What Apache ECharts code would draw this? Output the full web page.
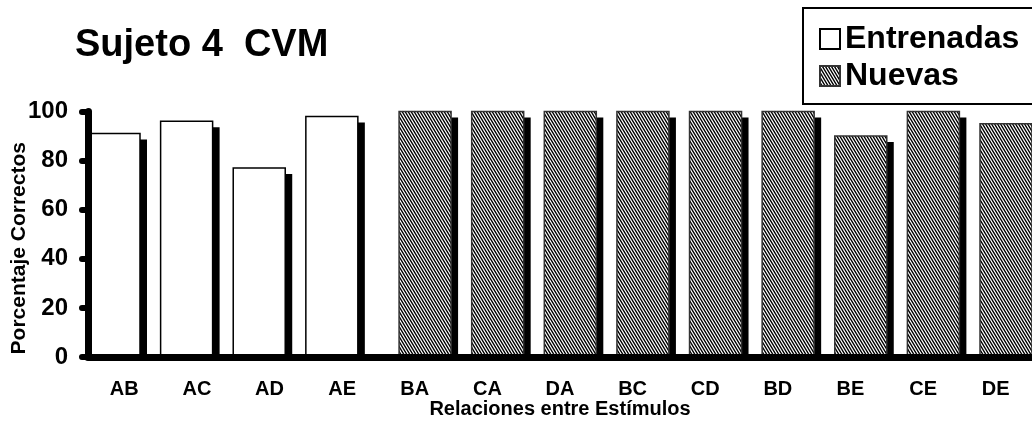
<!DOCTYPE html>
<html>
<head>
<meta charset="utf-8">
<script src="https://cdn.jsdelivr.net/npm/echarts@6/dist/echarts.min.js"></script>
<style>
html,body{margin:0;padding:0;background:#fff;}
#chart{width:1032px;height:421px;}
</style>
</head>
<body>
<div id="chart"></div>
<script>
// ---- data ----
const categories = ['AB','AC','AD','AE','BA','CA','DA','BC','CD','BD','BE','CE','DE'];
const seriesNames = ['Entrenadas','Nuevas'];
const entrenadas = [91, 96, 77, 98, null, null, null, null, null, null, null, null, null];
const nuevas = [null, null, null, null, 100, 100, 100, 100, 100, 100, 90, 100, 95];
const yMin = 0, yMax = 100, yStep = 20;
const titleText = 'Sujeto 4  CVM';
const xName = 'Relaciones entre Estímulos';
const yName = 'Porcentaje Correctos';

const FONT = '"Liberation Sans", Arial, Helvetica, sans-serif';
const BAR_W = 52;
const SH_X = 7, SH_Y = 6;

function makeHatch() {
  const W = 3, H = 5, slope = 0.6;
  const c = document.createElement('canvas');
  c.width = W; c.height = H;
  const ctx = c.getContext('2d');
  const img = ctx.createImageData(W, H);
  const N = 4;
  for (let y = 0; y < H; y++) {
    for (let x = 0; x < W; x++) {
      let cov = 0;
      for (let i = 0; i < N; i++) for (let j = 0; j < N; j++) {
        const px = x + (i + 0.5) / N, py = y + (j + 0.5) / N;
        const ph = (((px - py * slope) % W) + W) % W;
        if (ph < 1.4) cov++;
      }
      const v = Math.round(255 * cov / (N * N));
      const k = (y * W + x) * 4;
      img.data[k] = v; img.data[k+1] = v; img.data[k+2] = v; img.data[k+3] = 255;
    }
  }
  ctx.putImageData(img, 0, 0);
  return c;
}
const hatch = { image: makeHatch(), repeat: 'repeat' };

const styles = [
  { fill: '#fff', stroke: '#000', lineWidth: 1.5 },
  { fill: hatch, stroke: '#333', lineWidth: 1.5 }
];

function toPairs(arr) {
  const out = [];
  arr.forEach((v, i) => { if (v !== null && v !== undefined) out.push([i, v]); });
  return out;
}

function makeRender(which) {
  return function (params, api) {
    const idx = api.value(0), v = api.value(1);
    const base = api.coord([idx, 0]);
    const top = api.coord([idx, v]);
    const band = api.size([1, 0])[0];
    const offset = which === 0 ? 0 : band - BAR_W;
    const left = base[0] - band / 2 + offset;
    const h = base[1] - top[1];
    return {
      type: 'group',
      children: [
        { type: 'rect', shape: { x: left + SH_X, y: top[1] + SH_Y, width: BAR_W, height: Math.max(0, h - SH_Y) },
          style: { fill: '#000' } },
        { type: 'rect', shape: { x: left, y: top[1], width: BAR_W, height: h },
          style: styles[which] }
      ]
    };
  };
}

const axisLineStyle = { color: '#000', width: 7, cap: 'round' };
const tickStyle = { color: '#000', width: 6, cap: 'round' };

const chart = echarts.init(document.getElementById('chart'), null, { renderer: 'canvas' });
chart.setOption({
  animation: false,
  backgroundColor: '#fff',
  textStyle: { fontFamily: FONT },
  title: {
    text: titleText, left: 75, top: 27, padding: 0,
    textStyle: { fontSize: 38, fontWeight: 'bold', color: '#000', fontFamily: FONT }
  },
  legend: {
    orient: 'vertical', left: 803, top: 8,
    padding: [15, 30, 12, 16],
    borderColor: '#000', borderWidth: 2, borderRadius: 0,
    itemWidth: 20, itemHeight: 20, itemGap: 5, icon: 'rect',
    textStyle: { fontSize: 32, fontWeight: 'bold', color: '#000', fontFamily: FONT },
    data: seriesNames
  },
  grid: { left: 88, right: 0, top: 111.5, bottom: 64, containLabel: false, outerBoundsMode: 'none' },
  xAxis: {
    type: 'category', data: categories, z: 5,
    axisLine: { lineStyle: axisLineStyle },
    axisTick: { length: 6, lineStyle: tickStyle },
    axisLabel: { margin: 22, fontSize: 20, fontWeight: 'bold', color: '#000', fontFamily: FONT, interval: 0 },
    name: xName, nameLocation: 'middle', nameGap: 42, nameMoveOverlap: false,
    nameTextStyle: { fontSize: 20, fontWeight: 'bold', color: '#000', fontFamily: FONT }
  },
  yAxis: {
    type: 'value', min: yMin, max: yMax, interval: yStep, z: 5,
    axisLine: { show: true, lineStyle: axisLineStyle },
    axisTick: { show: true, length: 6, lineStyle: tickStyle },
    splitLine: { show: false },
    axisLabel: { margin: 20, fontSize: 24, fontWeight: 'bold', color: '#000', fontFamily: FONT },
    name: yName, nameLocation: 'middle', nameGap: 58, nameRotate: 90, nameMoveOverlap: false,
    nameTextStyle: { fontSize: 21, fontWeight: 'bold', color: '#000', fontFamily: FONT, padding: [0, 28, 0, 0] }
  },
  series: [
    {
      name: seriesNames[0], type: 'custom', data: toPairs(entrenadas),
      encode: { x: 0, y: 1 }, renderItem: makeRender(0),
      itemStyle: { color: '#fff', borderColor: '#000', borderWidth: 1.5 },
      emphasis: { disabled: true }
    },
    {
      name: seriesNames[1], type: 'custom', data: toPairs(nuevas),
      encode: { x: 0, y: 1 }, renderItem: makeRender(1),
      itemStyle: { color: hatch, borderColor: '#333', borderWidth: 1.5 },
      emphasis: { disabled: true }
    }
  ]
});
</script>
</body>
</html>
